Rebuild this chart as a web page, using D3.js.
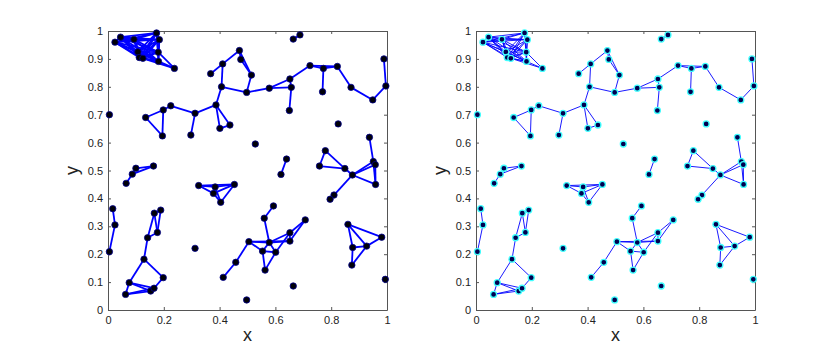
<!DOCTYPE html>
<html><head><meta charset="utf-8">
<script src="https://cdn.jsdelivr.net/npm/d3@7"></script>
<style>body{margin:0;background:#fff}svg{display:block}</style>
</head><body>
<svg id="c" width="832" height="354"></svg>
<script>
const nodes = [
[0.025,0.960],[0.045,0.978],[0.093,0.970],[0.174,0.993],[0.184,0.969],[0.107,0.925],[0.112,0.905],[0.125,0.902],[0.180,0.924],[0.181,0.891],
[0.238,0.866],[0.368,0.847],[0.411,0.882],[0.471,0.930],[0.476,0.898],[0.514,0.842],[0.497,0.780],[0.407,0.800],[0.578,0.795],[0.652,0.828],
[0.657,0.798],[0.650,0.715],[0.724,0.876],[0.772,0.866],[0.769,0.782],[0.822,0.873],[0.871,0.798],[0.949,0.753],[0.996,0.803],[0.989,0.900],
[0.664,0.971],[0.688,0.986],[0.825,0.667],[0.005,0.700],[0.135,0.690],[0.198,0.717],[0.225,0.732],[0.195,0.624],[0.312,0.705],[0.297,0.627],
[0.387,0.735],[0.401,0.651],[0.437,0.663],[0.065,0.454],[0.087,0.487],[0.100,0.508],[0.163,0.516],[0.325,0.446],[0.384,0.441],[0.378,0.418],
[0.404,0.386],[0.453,0.450],[0.528,0.595],[0.640,0.541],[0.620,0.486],[0.779,0.571],[0.758,0.516],[0.849,0.507],[0.876,0.484],[0.937,0.619],
[0.951,0.532],[0.958,0.521],[0.959,0.450],[0.810,0.412],[0.796,0.397],[0.017,0.363],[0.025,0.305],[0.005,0.209],[0.166,0.347],[0.189,0.358],
[0.177,0.278],[0.142,0.259],[0.129,0.182],[0.198,0.116],[0.076,0.098],[0.063,0.056],[0.153,0.068],[0.165,0.078],[0.312,0.221],[0.413,0.117],
[0.458,0.171],[0.505,0.245],[0.497,0.036],[0.593,0.373],[0.560,0.329],[0.578,0.242],[0.554,0.211],[0.601,0.207],[0.652,0.277],[0.652,0.247],
[0.707,0.323],[0.563,0.143],[0.664,0.086],[0.860,0.307],[0.981,0.261],[0.927,0.229],[0.877,0.224],[0.874,0.161],[0.994,0.110]
];
const cliqueNodes = [0,1,2,3,4,5,6,7,8,9];
const extraEdges = [
[10,8],[10,9],[10,7],
[11,12],[12,13],[12,17],[13,14],[13,15],[14,15],[15,16],[17,16],[17,40],[16,18],[18,19],[18,20],[19,20],[20,21],[19,22],[22,23],[22,25],[23,25],[23,24],[25,26],[26,27],[27,28],[28,29],[30,31],
[40,38],[40,41],[40,42],[41,42],
[34,35],[34,37],[35,37],[35,36],[36,38],[38,39],
[43,44],[44,45],[44,46],[45,46],
[47,48],[47,49],[47,51],[48,49],[48,50],[48,51],[49,50],[49,51],[50,51],
[53,54],
[55,56],[55,57],[56,57],[57,58],[58,60],[58,61],[58,62],[59,60],[60,62],[61,62],[60,61],[58,63],[63,64],
[65,66],[66,67],
[68,69],[68,70],[68,71],[69,70],[70,71],[71,72],[72,73],[72,74],[73,77],[74,76],[74,77],[74,75],[75,76],[75,77],[76,77],
[79,80],[80,81],
[83,84],[84,85],[81,85],[81,86],[81,89],[85,88],[85,86],[85,87],[86,87],[86,91],[87,91],[87,88],[88,90],[89,90],[88,89],[85,89],
[93,96],[93,95],[93,94],[95,94],[96,95],[96,97],[97,95]
];
const xTicks = [0,0.2,0.4,0.6,0.8,1];
const yTicks = [0,0.1,0.2,0.3,0.4,0.5,0.6,0.7,0.8,0.9,1];
const tickLabel = d => d3.format("~g")(d);

const edges = [];
cliqueNodes.forEach((a,i)=>cliqueNodes.slice(i+1).forEach(b=>edges.push([a,b])));
extraEdges.forEach(e=>edges.push(e));

const svg = d3.select("#c");
const panels = [
  {x0:108, style:"left"},
  {x0:476, style:"right"}
];
const W = 279, yTop = 31, yBottom = 310;

panels.forEach(p=>{
  const x = d3.scaleLinear().domain([0,1]).range([p.x0, p.x0+W]);
  const y = d3.scaleLinear().domain([0,1]).range([yBottom, yTop]);
  const g = svg.append("g");
  g.append("rect").attr("x",p.x0).attr("y",yTop).attr("width",W).attr("height",yBottom-yTop).attr("fill","#fff");

  const ax = (sel)=>sel.selectAll("text").attr("font-family","Liberation Sans, Arial, sans-serif").attr("font-size",11).attr("fill","#222");
  g.append("g").attr("transform",`translate(0,${yBottom})`)
    .call(d3.axisBottom(x).tickValues(xTicks).tickFormat(tickLabel).tickSizeInner(-3).tickSizeOuter(0).tickPadding(6)).call(ax);
  g.append("g").attr("transform",`translate(0,${yTop})`)
    .call(d3.axisTop(x).tickValues(xTicks).tickFormat("").tickSizeInner(-3).tickSizeOuter(0));
  g.append("g").attr("transform",`translate(${p.x0},0)`)
    .call(d3.axisLeft(y).tickValues(yTicks).tickFormat(tickLabel).tickSizeInner(-3).tickSizeOuter(0).tickPadding(5)).call(ax);
  g.append("g").attr("transform",`translate(${p.x0+W},0)`)
    .call(d3.axisRight(y).tickValues(yTicks).tickFormat("").tickSizeInner(-3).tickSizeOuter(0));
  g.selectAll(".domain").attr("stroke","#555");
  g.selectAll(".tick line").attr("stroke","#555");

  g.append("g").selectAll("line").data(edges).join("line")
    .attr("x1",d=>x(nodes[d[0]][0])).attr("y1",d=>y(nodes[d[0]][1]))
    .attr("x2",d=>x(nodes[d[1]][0])).attr("y2",d=>y(nodes[d[1]][1]))
    .attr("stroke","#0000ff").attr("stroke-width", p.style==="left"?1.8:0.9);

  if(p.style==="left"){
    g.append("g").selectAll("circle").data(nodes).join("circle")
      .attr("cx",d=>x(d[0])).attr("cy",d=>y(d[1])).attr("r",3.2)
      .attr("fill","#000008").attr("stroke","#000090").attr("stroke-width",0.8);
  } else {
    g.append("g").selectAll("circle").data(nodes).join("circle")
      .attr("cx",d=>x(d[0])).attr("cy",d=>y(d[1])).attr("r",3.0)
      .attr("fill","#000050").attr("stroke","#40ffff").attr("stroke-width",1.3);
  }

  g.append("text").attr("x",p.x0+W/2).attr("y",341).attr("text-anchor","middle")
    .attr("font-family","Liberation Sans, Arial, sans-serif").attr("font-size",18).attr("fill","#222").text("x");
  g.append("text").attr("transform",`translate(${p.x0-30},${(yTop+yBottom)/2}) rotate(-90)`).attr("text-anchor","middle")
    .attr("font-family","Liberation Sans, Arial, sans-serif").attr("font-size",18).attr("fill","#222").text("y");
});
</script>
</body></html>
